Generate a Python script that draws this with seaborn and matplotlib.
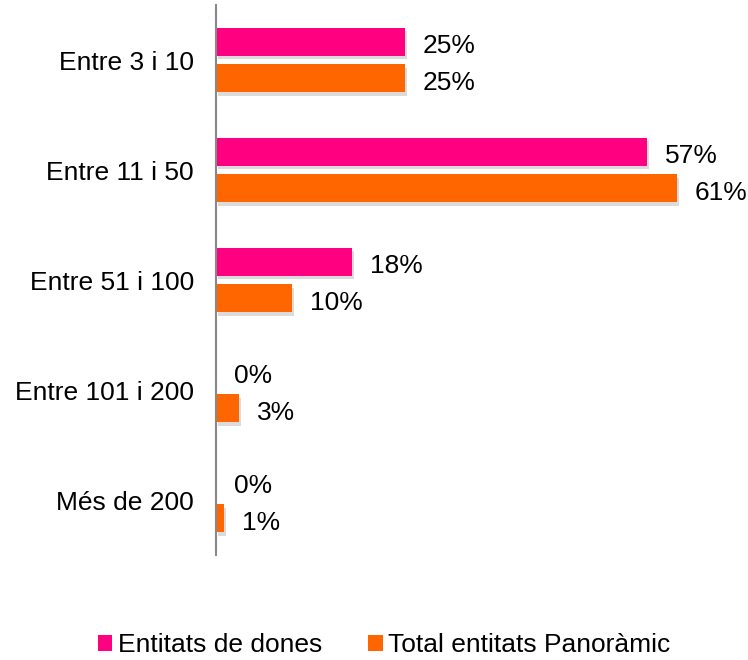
import matplotlib
matplotlib.use("Agg")
import matplotlib.pyplot as plt
import matplotlib.patheffects as pe
from matplotlib.patches import Patch
import seaborn as sns
import pandas as pd

categories = ["Entre 3 i 10", "Entre 11 i 50", "Entre 51 i 100", "Entre 101 i 200", "Més de 200"]
dones = [25, 57, 18, 0, 0]
total = [25, 61, 10, 3, 1]
series = ["Entitats de dones", "Total entitats Panoràmic"]
colors = ["#FF0080", "#FF6600"]

df = pd.DataFrame({
    "cat": categories * 2,
    "val": dones + total,
    "serie": [series[0]] * len(categories) + [series[1]] * len(categories),
})

sns.set_theme(style="white")
plt.rcParams["font.family"] = ["Liberation Sans", "DejaVu Sans"]

FS = 19

fig = plt.figure(figsize=(7.48, 6.6), dpi=100)
ax = fig.add_axes([216 / 748, 1 - 555 / 660, (745 - 216) / 748, 550 / 660])

sns.barplot(data=df, y="cat", x="val", hue="serie", palette=colors, orient="h",
            width=0.67, gap=0.24, ax=ax, legend=False, linewidth=0, saturation=1)

for p in ax.patches:
    p.set_path_effects([pe.SimplePatchShadow(offset=(1.5, -2.5), shadow_rgbFace="#888888", alpha=0.3), pe.Normal()])

for cont in ax.containers:
    anns = ax.bar_label(cont, labels=[f"{v:.0f}%" for v in cont.datavalues], padding=13, fontsize=FS, color="black")
    for a in anns:
        a.xyann = (13, -3)

ax.set_xlim(0, 70)
ax.set_ylim(4.5, -0.5)
ax.set_xlabel("")
ax.set_ylabel("")
ax.set_xticks([])
ax.tick_params(axis="y", length=0, pad=16, labelsize=FS, labelcolor="black")
for s in ["top", "right", "bottom"]:
    ax.spines[s].set_visible(False)
ax.spines["left"].set_color("#888888")
ax.spines["left"].set_linewidth(1.5)

handles = [Patch(facecolor=c, edgecolor="none") for c in colors]
fig.legend(handles, series, loc="center", bbox_to_anchor=(384 / 748, 1 - 645 / 660), ncol=2,
           frameon=False, fontsize=FS, handlelength=0.55, handleheight=0.55, handletextpad=0.2,
           columnspacing=1.75, labelcolor="black")

fig.savefig("out.png", dpi=100)
